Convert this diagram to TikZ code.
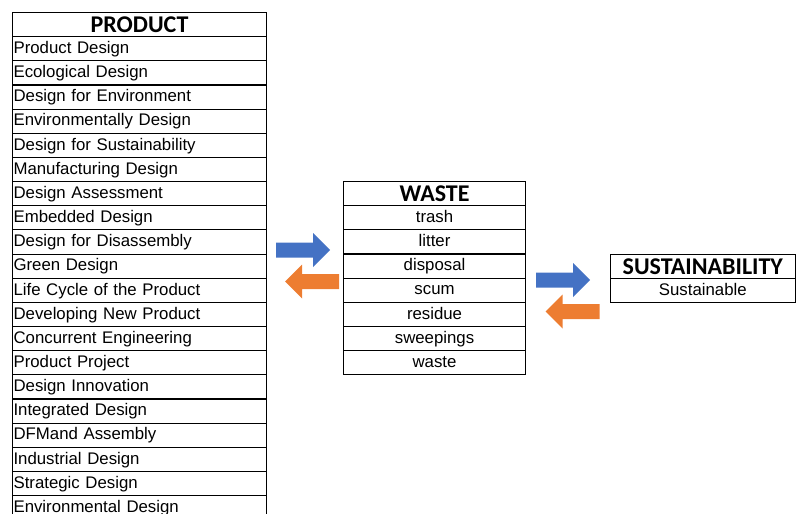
\documentclass[tikz,border=0pt]{standalone}
\usepackage{fontspec}
\setmainfont{Liberation Sans}
\newfontfamily\hdfont{Carlito}
\definecolor{arrblue}{HTML}{4472C4}
\definecolor{arrorange}{HTML}{ED7D31}
\begin{document}
\begin{tikzpicture}[x=1pt,y=-1pt,
  cellbase/.style={draw=black,line width=1.1pt,inner sep=0pt,minimum height=24.15pt,
     text height=13pt,text depth=3.5pt},
  body/.style={cellbase,font=\fontsize{16.8}{18}\selectfont},
  head/.style={cellbase,font=\hdfont\bfseries\fontsize{24}{24}\selectfont,text height=16.5pt,text depth=1pt},
  pcell/.style={body,minimum width=254pt,text width=252pt,align=left,anchor=north west},
  phead/.style={head,minimum width=254pt,anchor=north west},
  wcell/.style={body,minimum width=182pt,anchor=north west},
  whead/.style={head,minimum width=182pt,anchor=north west},
  scell/.style={body,minimum width=184.5pt,anchor=north west},
  shead/.style={head,minimum width=184.5pt,anchor=north west},
  blockarrow/.pic={\fill[pic actions] (-27,-7.5) -- (10,-7.5) -- (10,-17) -- (27,0) -- (10,17) -- (10,7.5) -- (-27,7.5) -- cycle;}
]
\useasboundingbox (0,0) rectangle (796,514);
\clip (0,0) rectangle (796,514);
% PRODUCT table
\node[phead] (ph) at (12,12) {PRODUCT};
\foreach \t [count=\i] in {Product Design,Ecological Design,Design for Environment,Environmentally Design,Design for Sustainability,Manufacturing Design,Design Assessment,Embedded Design,Design for Disassembly,Green Design,Life Cycle of the Product,Developing New Product,Concurrent Engineering,Product Project,Design Innovation,Integrated Design,DFMand Assembly,Industrial Design,Strategic Design,Environmental Design}
  \node[pcell] (p\i) at (12,{36.15+(\i-1)*24.15}) {\t};
% WASTE table
\node[whead] (wh) at (343,181) {WASTE};
\foreach \t [count=\i] in {trash,litter,disposal,scum,residue,sweepings,waste}
  \node[wcell] (w\i) at (343,{205.15+(\i-1)*24.15}) {\t};
% SUSTAINABILITY table
\node[shead] (sh) at (610,254) {SUSTAINABILITY};
\node[scell] (s1) at (610,278.15) {Sustainable};
% block arrows
\pic[fill=arrblue] at (303,250) {blockarrow};
\pic[fill=arrorange,xscale=-1] at (312,281.5) {blockarrow};
\pic[fill=arrblue] at (563,280) {blockarrow};
\pic[fill=arrorange,xscale=-1] at (572.5,311.5) {blockarrow};
\end{tikzpicture}
\end{document}
